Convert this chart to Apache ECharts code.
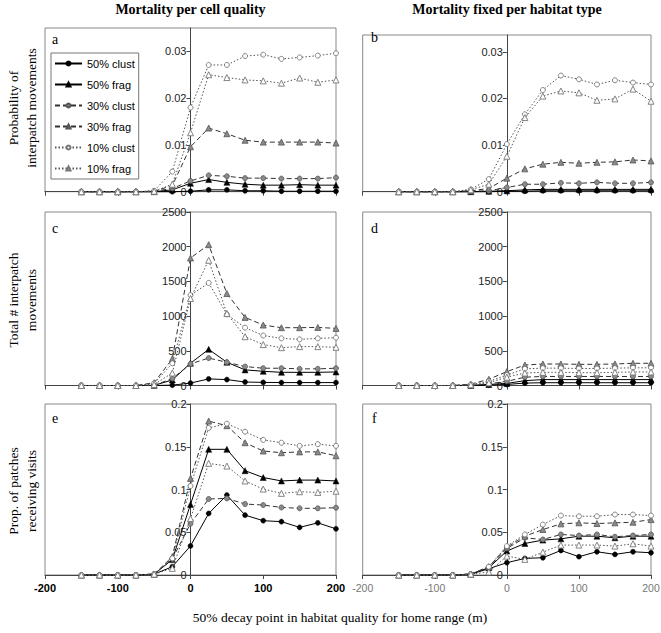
<!DOCTYPE html>
<html><head><meta charset="utf-8">
<script src="https://cdn.jsdelivr.net/npm/echarts@6/dist/echarts.min.js"></script>
<style>html,body{margin:0;padding:0;background:#fff}#c{width:661px;height:633px}</style>
</head><body><div id="c"></div><script>
// ---------- data ----------
const xValues = [-150,-125,-100,-75,-50,-25,0,25,50,75,100,125,150,175,200];
const seriesNames = ['50% clust','50% frag','30% clust','30% frag','10% clust','10% frag'];
const xTicks = [-200,-100,0,100,200];

// panel a: probability of interpatch movements, mortality per cell quality
const a50c = [0,0,0,0,0,0,0.0001,0.0004,0.0004,0.0002,0.0002,0.0001,0.0001,0.0001,0.0001];
const a50f = [0,0,0,0,0,0.0004,0.0018,0.0026,0.0020,0.0016,0.0014,0.0014,0.0015,0.0014,0.0014];
const a30c = [0,0,0,0,0.0001,0.0007,0.0023,0.0035,0.0033,0.0029,0.0029,0.0028,0.0028,0.0028,0.0030];
const a30f = [0,0,0,0,0.0001,0.0013,0.0096,0.0136,0.0124,0.0110,0.0106,0.0106,0.0106,0.0106,0.0104];
const a10c = [0,0,0,0,0.0002,0.0043,0.0180,0.0271,0.0271,0.0290,0.0293,0.0284,0.0287,0.0291,0.0296];
const a10f = [0,0,0,0,0.0001,0.0016,0.0126,0.0250,0.0244,0.0239,0.0237,0.0232,0.0243,0.0234,0.0239];
// panel b
const b50c = [0,0,0,0,0,0,0.0001,0.0001,0.0002,0.0002,0.0002,0.0002,0.0002,0.0002,0.0002];
const b50f = [0,0,0,0,0,0.0001,0.0002,0.0004,0.0005,0.0005,0.0005,0.0005,0.0005,0.0005,0.0005];
const b30c = [0,0,0,0,0.0001,0.0002,0.0009,0.0016,0.0016,0.0019,0.0018,0.0020,0.0018,0.0018,0.0020];
const b30f = [0,0,0,0,0.0002,0.0007,0.0029,0.0049,0.0059,0.0063,0.0061,0.0063,0.0064,0.0068,0.0066];
const b10c = [0,0,0,0,0.0005,0.0027,0.0102,0.0166,0.0218,0.0249,0.0241,0.0230,0.0239,0.0234,0.0230];
const b10f = [0,0,0,0,0.0004,0.0016,0.0076,0.0159,0.0205,0.0216,0.0212,0.0196,0.0199,0.0220,0.0194];
// panel c: total # interpatch movements
const c50c = [0,0,0,0,0,5,35,95,85,50,45,42,42,42,42];
const c50f = [0,0,0,0,2,80,321,521,335,225,205,190,190,190,195];
const c30c = [0,0,0,0,3,100,311,395,335,273,249,249,240,240,249];
const c30f = [0,0,0,0,40,385,1837,2029,1325,981,871,833,833,837,823];
const c10c = [0,0,0,0,30,320,1301,1478,1024,833,720,679,665,679,689];
const c10f = [0,0,0,0,15,180,1254,1804,1038,703,590,545,560,560,550];
// panel d
const d50c = [0,0,0,0,0,5,15,35,40,40,40,40,40,40,40];
const d50f = [0,0,0,0,1,15,30,70,85,85,85,85,85,85,85];
const d30c = [0,0,0,0,2,25,60,120,130,130,130,130,130,130,130];
const d30f = [0,0,0,0,20,90,200,295,310,310,305,305,310,320,320];
const d10c = [0,0,0,0,15,60,150,240,250,250,245,245,250,255,255];
const d10f = [0,0,0,0,10,40,120,180,190,190,185,185,190,195,195];
// panel e: prop. of patches receiving visits
const e50c = [0,0,0,0,0.001,0.0097,0.034,0.072,0.0935,0.070,0.0635,0.0624,0.0557,0.061,0.054];
const e50f = [0,0,0,0,0.001,0.018,0.0826,0.147,0.147,0.122,0.114,0.110,0.111,0.111,0.110];
const e30c = [0,0,0,0,0.001,0.0187,0.060,0.0889,0.0896,0.083,0.0818,0.079,0.078,0.078,0.0787];
const e30f = [0,0,0,0,0.001,0.0214,0.113,0.180,0.1746,0.1547,0.145,0.143,0.144,0.144,0.1395];
const e10c = [0,0,0,0,0.001,0.0195,0.104,0.172,0.177,0.1676,0.158,0.1547,0.151,0.153,0.151];
const e10f = [0,0,0,0,0.001,0.0078,0.066,0.1306,0.1274,0.110,0.1005,0.0955,0.0974,0.0966,0.098];
// panel f
const f50c = [0,0,0,0,0.001,0.0074,0.0144,0.0194,0.0202,0.0287,0.0214,0.0272,0.0241,0.0272,0.026];
const f50f = [0,0,0,0,0.001,0.0085,0.028,0.0369,0.0408,0.0423,0.0454,0.0454,0.0435,0.0454,0.0454];
const f30c = [0,0,0,0,0.001,0.0095,0.031,0.0435,0.0415,0.0474,0.0462,0.0474,0.0447,0.0462,0.0474];
const f30f = [0,0,0,0,0.001,0.0097,0.0326,0.0454,0.0532,0.0598,0.061,0.0602,0.061,0.0617,0.0648];
const f10c = [0,0,0,0,0.001,0.0097,0.0338,0.0474,0.059,0.0695,0.0687,0.0687,0.0707,0.0707,0.0695];
const f10f = [0,0,0,0,0.001,0.0035,0.0221,0.0183,0.0268,0.035,0.035,0.035,0.0338,0.0365,0.0338];

// y-axis ranges [min, max, interval]
const aRange = [0, 0.035, 0.01];
const bRange = [0, 0.0336, 0.01];
const cRange = [0, 2500, 500];
const dRange = [0, 2500, 500];
const eRange = [0, 0.2, 0.05];
const fRange = [0, 0.2, 0.05];

const columnTitles = ['Mortality per cell quality', 'Mortality fixed per habitat type'];
const rowTitles = [['Probability of','interpatch movements'],['Total # interpatch','movements'],['Prop. of patches','receiving visits']];
const panelLetters = ['a','b','c','d','e','f'];
const xTitle = '50% decay point in habitat quality for home range (m)';

// ---------- layout / styling ----------
const panels = [
  {data:[a50c,a50f,a30c,a30f,a10c,a10f], range:aRange, rect:[45,28,291,163.7]},
  {data:[b50c,b50f,b30c,b30f,b10c,b10f], range:bRange, rect:[362.7,35,288.3,156.7]},
  {data:[c50c,c50f,c30c,c30f,c10c,c10f], range:cRange, rect:[45,212,291,173.5]},
  {data:[d50c,d50f,d30c,d30f,d10c,d10f], range:dRange, rect:[362.7,212,288.3,173.5]},
  {data:[e50c,e50f,e30c,e30f,e10c,e10f], range:eRange, rect:[45,404,291,171]},
  {data:[f50c,f50f,f30c,f30f,f10c,f10f], range:fRange, rect:[362.7,404,288.3,171]}
];
const styles = [
  {line:{color:'#000',width:1,type:'solid'}, symbol:'circle', size:5, item:{color:'#000',borderColor:'#000',borderWidth:0.5}},
  {line:{color:'#000',width:1,type:'solid'}, symbol:'triangle', size:6, item:{color:'#000',borderColor:'#000',borderWidth:0.5}},
  {line:{color:'#333',width:1,type:[5,3]}, symbol:'circle', size:5, item:{color:'#8a8a8a',borderColor:'#555',borderWidth:0.8}},
  {line:{color:'#333',width:1,type:[5,3]}, symbol:'triangle', size:6, item:{color:'#8a8a8a',borderColor:'#555',borderWidth:0.8}},
  {line:{color:'#555',width:1,type:[1.5,2]}, symbol:'circle', size:5, item:{color:'#fff',borderColor:'#777',borderWidth:0.9}},
  {line:{color:'#555',width:1,type:[1.5,2]}, symbol:'triangle', size:6, item:{color:'#fff',borderColor:'#777',borderWidth:0.9}}
];
const SANS = '"Liberation Sans", Arial, sans-serif';
const SERIF = '"Liberation Serif", "Times New Roman", serif';
const plainNum = v => String(Math.round(v * 1e6) / 1e6);

const grid = [], xAxis = [], yAxis = [], series = [];
panels.forEach((p, i) => {
  grid.push({left:p.rect[0], top:p.rect[1], width:p.rect[2], height:p.rect[3],
    show:true, borderColor:'#888', borderWidth:1, backgroundColor:'transparent',
    containLabel:false, outerBoundsMode:'none'});
  const bottomRow = i >= 4;
  const leftCol = i % 2 === 0;
  const xmin = xTicks[0], xmax = xTicks[xTicks.length - 1];
  const zeroOffset = p.rect[2] * (0 - xmin) / (xmax - xmin);
  const steps = p.range[1] / p.range[2];
  const maxIsTick = Math.abs(steps - Math.round(steps)) < 1e-9;
  xAxis.push({type:'value', gridIndex:i, min:xmin, max:xmax, interval:100,
    splitLine:{show:false},
    axisLine:{show:true, onZero:false, lineStyle:{color:'#444', width:1}},
    axisTick:{show:true, length:4, inside:false, lineStyle:{color:'#444'}},
    axisLabel:{show:bottomRow, margin:7, formatter:plainNum, fontFamily:SANS, fontSize: leftCol?11:10.5,
      fontWeight: leftCol?'bold':'normal', color: leftCol?'#000':'#777'}
  });
  yAxis.push({type:'value', gridIndex:i, position:'left', offset:-zeroOffset,
    min:p.range[0], max:p.range[1], interval:p.range[2],
    splitLine:{show:false},
    axisLine:{show:true, onZero:false, lineStyle:{color:'#444', width:1}},
    axisTick:{show:true, length:4, inside:false, lineStyle:{color:'#444'}},
    axisLabel:{show:true, margin:4, showMaxLabel:maxIsTick, formatter:plainNum,
      fontFamily:SANS, fontSize:11, color:'#222'}
  });
  p.data.forEach((arr, k) => {
    const st = styles[k];
    series.push({type:'line', name:seriesNames[k], xAxisIndex:i, yAxisIndex:i,
      data:xValues.map((x, j) => [x, arr[j]]),
      symbol:st.symbol, symbolSize:st.size, showSymbol:true, showAllSymbol:true,
      lineStyle:st.line, itemStyle:st.item, clip:false, animation:false, z:2+k,
      emphasis:{disabled:true}
    });
  });
});

const graphic = [];
const colCenters = [190.5, 507];
columnTitles.forEach((t, i) => graphic.push({type:'text', x:colCenters[i], y:9,
  style:{text:t, font:'bold 14px ' + SERIF, fill:'#000', textAlign:'center', textVerticalAlign:'middle'}}));
const rowCenters = [108, 300, 491];
rowTitles.forEach((lines, r) => {
  lines.forEach((t, l) => graphic.push({type:'text', x:[13,31][l], y:rowCenters[r], rotation:Math.PI/2,
    style:{text:t, font:'13.5px ' + SERIF, fill:'#000', textAlign:'center', textVerticalAlign:'middle'}}));
});
const letterPos = [[52,39],[371,37],[52,228],[371,228],[52,418],[372,418]];
panelLetters.forEach((t, i) => graphic.push({type:'text', x:letterPos[i][0], y:letterPos[i][1],
  style:{text:t, font:'14px ' + SERIF, fill:'#000', textAlign:'left', textVerticalAlign:'middle'}}));
graphic.push({type:'text', x:340, y:617, style:{text:xTitle, font:'13.5px ' + SERIF, fill:'#000', textAlign:'center', textVerticalAlign:'middle'}});

const chart = echarts.init(document.getElementById('c'), null, {renderer:'svg', width:661, height:633});
chart.setOption({
  animation:false,
  backgroundColor:'#fff',
  grid, xAxis, yAxis, series, graphic,
  legend:{show:true, data:seriesNames, orient:'vertical', left:51, top:53,
    itemWidth:27, itemHeight:5, itemGap:10, padding:[5,4,5,3],
    borderColor:'#777', borderWidth:1, backgroundColor:'#fff', selectedMode:false,
    textStyle:{fontFamily:SANS, fontSize:11, color:'#000'}}
});
</script></body></html>
